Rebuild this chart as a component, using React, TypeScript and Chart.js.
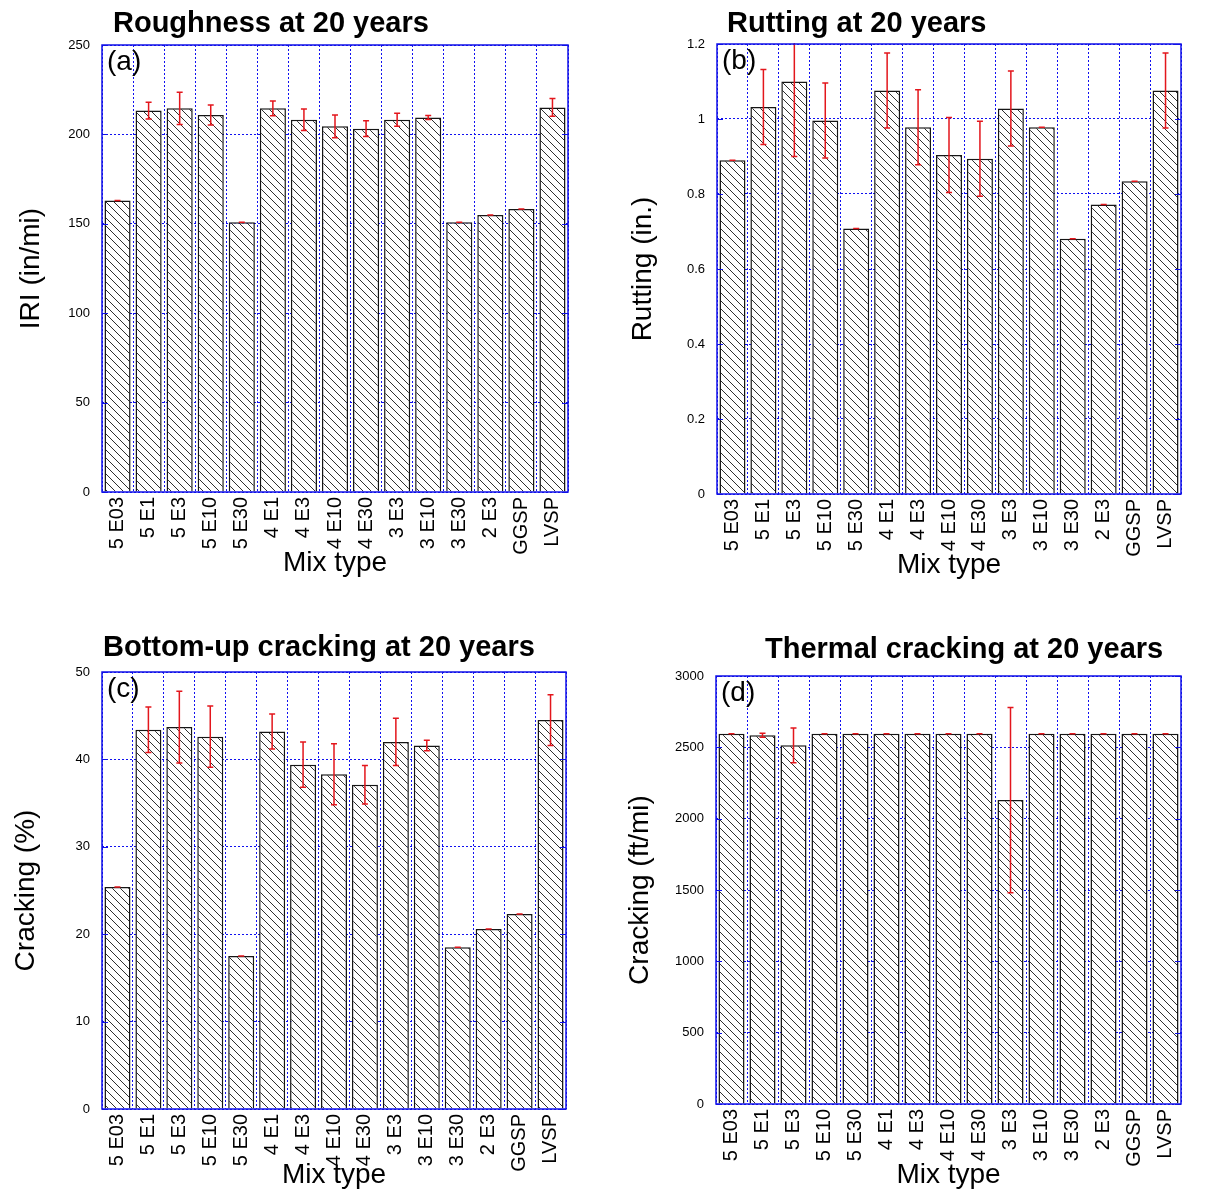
import React, { useEffect, useRef } from 'react';
import { Chart, registerables } from 'chart.js';

Chart.register(...registerables);

// ---------------- data ----------------
const categories = ['5 E03', '5 E1', '5 E3', '5 E10', '5 E30', '4 E1', '4 E3', '4 E10', '4 E30', '3 E3', '3 E10', '3 E30', '2 E3', 'GGSP', 'LVSP'];

const iriValues = [163, 213.3, 214.6, 210.9, 150.8, 214.6, 208.2, 204.5, 203.2, 208.2, 209.5, 150.8, 154.9, 158.3, 215.1];
const iriErrors = [0, 4.7, 9, 5.6, 0, 4.1, 6, 6.4, 4.4, 3.6, 1.1, 0, 0, 0, 5];
const iriTicks = [0, 50, 100, 150, 200, 250];

const ruttingValues = [0.89, 1.032, 1.1, 0.996, 0.708, 1.076, 0.978, 0.904, 0.894, 1.028, 0.978, 0.681, 0.772, 0.834, 1.076];
const ruttingErrors = [0, 0.1, 0.2, 0.1, 0, 0.1, 0.1, 0.1, 0.1, 0.1, 0, 0, 0, 0, 0.1];
const ruttingTicks = [0, 0.2, 0.4, 0.6, 0.8, 1, 1.2];

const bottomUpValues = [25.4, 43.4, 43.7, 42.6, 17.5, 43.2, 39.4, 38.3, 37.1, 42.0, 41.6, 18.5, 20.6, 22.3, 44.5];
const bottomUpErrors = [0, 2.6, 4.1, 3.5, 0, 2.0, 2.6, 3.5, 2.2, 2.7, 0.6, 0, 0, 0, 2.9];
const bottomUpTicks = [0, 10, 20, 30, 40, 50];

const thermalValues = [2595, 2584, 2514, 2595, 2595, 2595, 2595, 2595, 2595, 2130, 2595, 2595, 2595, 2595, 2595];
const thermalErrors = [0, 14, 122, 0, 0, 0, 0, 0, 0, 650, 0, 0, 0, 0, 0];
const thermalTicks = [0, 500, 1000, 1500, 2000, 2500, 3000];

const xAxisTitle = 'Mix type';

// ---------------- styling / layout ----------------
const FONT = '"Liberation Sans", Arial, Helvetica, sans-serif';
const GRID = '#1010f0';
const FRAME = '#1010e8';
const ERR = '#e3161c';

type Panel = {
  key: string;
  title: string;
  letter: string;
  yTitle: string;
  values: number[];
  errors: number[];
  ticks: number[];
  left: number;
  top: number;
  width: number;
  height: number;
  area: { left: number; right: number; top: number; bottom: number };
  titlePos: { x: number; y: number };
  yTitlePad: number;
  xTitlePad: number;
};

const panels: Panel[] = [
  {
    key: 'a', title: 'Roughness at 20 years', letter: '(a)', yTitle: 'IRI (in/mi)',
    values: iriValues, errors: iriErrors, ticks: iriTicks,
    left: 0, top: 0, width: 604, height: 600,
    area: { left: 102, right: 568, top: 45, bottom: 492 },
    titlePos: { x: 113, y: 32 }, yTitlePad: 14, xTitlePad: 20,
  },
  {
    key: 'b', title: 'Rutting at 20 years', letter: '(b)', yTitle: 'Rutting (in.)',
    values: ruttingValues, errors: ruttingErrors, ticks: ruttingTicks,
    left: 604, top: 0, width: 605, height: 600,
    area: { left: 113, right: 577, top: 44, bottom: 494 },
    titlePos: { x: 123, y: 32 }, yTitlePad: 22, xTitlePad: 18,
  },
  {
    key: 'c', title: 'Bottom-up cracking at 20 years', letter: '(c)', yTitle: 'Cracking (%)',
    values: bottomUpValues, errors: bottomUpErrors, ticks: bottomUpTicks,
    left: 0, top: 600, width: 604, height: 592,
    area: { left: 102, right: 566, top: 72, bottom: 509 },
    titlePos: { x: 103, y: 56 }, yTitlePad: 9, xTitlePad: 0,
  },
  {
    key: 'd', title: 'Thermal cracking at 20 years', letter: '(d)', yTitle: 'Cracking (ft/mi)',
    values: thermalValues, errors: thermalErrors, ticks: thermalTicks,
    left: 604, top: 600, width: 605, height: 592,
    area: { left: 112, right: 577, top: 76, bottom: 504 },
    titlePos: { x: 161, y: 58 }, yTitlePad: 19, xTitlePad: 0,
  },
];

function makeHatch(ctx: CanvasRenderingContext2D): CanvasPattern | string {
  const s = 8;
  const c = document.createElement('canvas');
  c.width = s;
  c.height = s;
  const g = c.getContext('2d');
  if (!g) return '#fff';
  g.fillStyle = '#ffffff';
  g.fillRect(0, 0, s, s);
  g.strokeStyle = '#303030';
  g.lineWidth = 1;
  g.beginPath();
  g.moveTo(0, 0);
  g.lineTo(s, s);
  g.moveTo(-1, s - 1);
  g.lineTo(1, s + 1);
  g.moveTo(s - 1, -1);
  g.lineTo(s + 1, 1);
  g.stroke();
  return ctx.createPattern(c, 'repeat') || '#fff';
}

function PanelChart({ p }: { p: Panel }) {
  const ref = useRef<HTMLCanvasElement | null>(null);

  useEffect(() => {
    const canvas = ref.current;
    if (!canvas) return;
    const ctx0 = canvas.getContext('2d');
    if (!ctx0) return;
    const hatch = makeHatch(ctx0);

    const decor = {
      id: 'decor' + p.key,
      afterDatasetsDraw(chart: any) {
        const { ctx, chartArea } = chart;
        const ys = chart.scales.y;
        const meta = chart.getDatasetMeta(0);
        ctx.save();
        ctx.beginPath();
        ctx.rect(chartArea.left, chartArea.top - 1, chartArea.right - chartArea.left, chartArea.bottom - chartArea.top + 1);
        ctx.clip();
        ctx.strokeStyle = ERR;
        ctx.lineWidth = 1.5;
        meta.data.forEach((bar: any, i: number) => {
          const v = p.values[i];
          const e = p.errors[i];
          const x = bar.x;
          const yHi = ys.getPixelForValue(v + e);
          const yLo = ys.getPixelForValue(v - e);
          ctx.beginPath();
          if (e > 0) {
            ctx.moveTo(x, yHi);
            ctx.lineTo(x, yLo);
          }
          ctx.moveTo(x - 3, yHi);
          ctx.lineTo(x + 3, yHi);
          ctx.moveTo(x - 3, yLo);
          ctx.lineTo(x + 3, yLo);
          ctx.stroke();
        });
        ctx.restore();
      },
      afterDraw(chart: any) {
        const { ctx, chartArea } = chart;
        const { left, right, top, bottom } = chartArea;
        const ys = chart.scales.y;
        ctx.save();
        ctx.strokeStyle = FRAME;
        ctx.lineWidth = 1.5;
        ctx.setLineDash([]);
        ctx.strokeRect(left, top, right - left, bottom - top);
        ctx.lineWidth = 1;
        ys.ticks.forEach((t: any) => {
          const y = Math.round(ys.getPixelForValue(t.value)) + 0.5;
          ctx.beginPath();
          ctx.moveTo(left, y);
          ctx.lineTo(left + 6, y);
          ctx.moveTo(right - 6, y);
          ctx.lineTo(right, y);
          ctx.stroke();
        });
        ctx.fillStyle = '#000';
        ctx.font = `28px ${FONT}`;
        ctx.textAlign = 'left';
        ctx.textBaseline = 'top';
        ctx.fillText(p.letter, left + 5, top + 3);
        ctx.font = `bold 29px ${FONT}`;
        ctx.textBaseline = 'alphabetic';
        ctx.fillText(p.title, p.titlePos.x, p.titlePos.y);
        ctx.restore();
      },
    };

    const chart = new Chart(canvas, {
      type: 'bar',
      data: {
        labels: categories,
        datasets: [
          {
            data: p.values,
            backgroundColor: hatch as any,
            borderColor: '#151515',
            borderWidth: 1.5,
            barPercentage: 0.84,
            categoryPercentage: 1,
          },
        ],
      },
      options: {
        animation: false,
        responsive: false,
        maintainAspectRatio: false,
        devicePixelRatio: 1,
        layout: {
          padding: { left: 0, top: p.area.top, right: p.width - p.area.right, bottom: 0 },
        },
        plugins: {
          legend: { display: false },
          tooltip: { enabled: false },
          title: { display: false },
        },
        scales: {
          x: {
            offset: true,
            grid: { color: GRID, lineWidth: 1, drawTicks: false, offset: true },
            border: { display: false, dash: [2, 2] },
            ticks: {
              maxRotation: 90,
              minRotation: 90,
              autoSkip: false,
              padding: 5,
              color: '#000',
              font: { family: FONT, size: 20 },
            },
            title: {
              display: true,
              text: xAxisTitle,
              color: '#000',
              font: { family: FONT, size: 28 },
              padding: { top: 0, bottom: p.xTitlePad },
            },
            afterFit: (s: any) => {
              s.height = p.height - p.area.bottom;
            },
          },
          y: {
            min: p.ticks[0],
            max: p.ticks[p.ticks.length - 1],
            grid: { color: GRID, lineWidth: 1, drawTicks: false },
            border: { display: false, dash: [2, 2] },
            afterBuildTicks: (s: any) => {
              s.ticks = p.ticks.map((v) => ({ value: v }));
            },
            ticks: {
              padding: 12,
              color: '#000',
              font: { family: FONT, size: 13 },
              callback: (v: any) => String(v),
            },
            title: {
              display: true,
              text: p.yTitle,
              color: '#000',
              font: { family: FONT, size: 28 },
              padding: { top: p.yTitlePad, bottom: 0 },
            },
            afterFit: (s: any) => {
              s.width = p.area.left;
            },
          },
        },
      },
      plugins: [decor],
    } as any);

    return () => {
      chart.destroy();
    };
  }, [p]);

  return (
    <canvas
      ref={ref}
      width={p.width}
      height={p.height}
      style={{ position: 'absolute', left: p.left, top: p.top, width: p.width, height: p.height }}
    />
  );
}

export default function App() {
  return (
    <div style={{ position: 'absolute', left: 0, top: 0, width: 1209, height: 1192, background: '#fff' }}>
      {panels.map((p) => (
        <PanelChart key={p.key} p={p} />
      ))}
    </div>
  );
}
